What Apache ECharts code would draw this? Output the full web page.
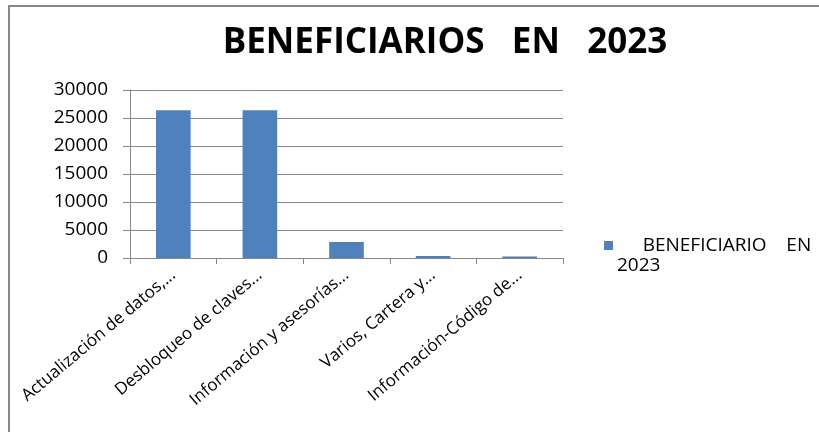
<!DOCTYPE html>
<html>
<head>
<meta charset="utf-8">
<script src="https://cdn.jsdelivr.net/npm/echarts@6/dist/echarts.min.js"></script>
<style>
  html, body { margin: 0; padding: 0; background: #fff; }
  #chart { width: 819px; height: 432px; }
</style>
</head>
<body>
<div id="chart"></div>
<script>
const categories = [
  'Actualización de datos,...',
  'Desbloqueo de claves...',
  'Información y asesorías...',
  'Varios, Cartera y...',
  'Información-Código de...'
]
const values = [26400, 26400, 2850, 350, 250]
const yTicks = [0, 5000, 10000, 15000, 20000, 25000, 30000]
const seriesName = 'BENEFICIARIO   EN   2023'

const myChart = echarts.init(document.getElementById('chart'))
myChart.setOption({
  animation: false,
  title: {
    text: 'BENEFICIARIOS   EN   2023',
    left: 440,
    textAlign: 'center',
    top: 21,
    textStyle: {
      fontFamily: 'Open Sans',
      fontWeight: 'bold',
      fontSize: 35,
      color: '#000',
    },
  },
  graphic: [{
    type: 'polyline',
    shape: { points: [[9, 440], [9, 6], [830, 6]] },
    style: { stroke: '#888', lineWidth: 2, fill: null },
  }, {
    // second line of the legend label, as Excel wrapped it
    type: 'text',
    left: 617,
    top: 256,
    style: {
      text: '2023',
      font: '19px "Open Sans"',
      fill: '#000',
    },
  }],
  legend: {
    left: 599,
    top: 228,
    itemWidth: 9,
    itemHeight: 9,
    icon: 'rect',
    itemGap: 8,
    formatter: function () {
      return '     BENEFICIARIO    EN'
    },
    textStyle: {
      fontFamily: 'Open Sans',
      fontSize: 19,
      color: '#000',
      lineHeight: 25,
    },
    data: [seriesName],
  },
  grid: {
    left: 130,
    right: 256,
    top: 90,
    bottom: 174,
  },
  xAxis: {
    type: 'category',
    data: categories,
    axisLine: { lineStyle: { color: '#868686' } },
    axisTick: { show: true, length: 6, lineStyle: { color: '#868686' } },
    axisLabel: {
      rotate: 40,
      interval: 0,
      margin: 15,
      fontFamily: 'Open Sans',
      fontSize: 17,
      color: '#000',
    },
  },
  yAxis: {
    type: 'value',
    min: yTicks[0],
    max: yTicks[yTicks.length - 1],
    interval: 5000,
    axisLine: { show: true, lineStyle: { color: '#868686' } },
    axisTick: { show: true, length: 7, lineStyle: { color: '#868686' } },
    splitLine: { lineStyle: { color: '#868686' } },
    axisLabel: {
      margin: 22,
      fontFamily: 'Open Sans',
      fontSize: 19,
      color: '#000',
      formatter: function (v) { return String(v) },
    },
  },
  series: [{
    name: seriesName,
    type: 'bar',
    data: values,
    barCategoryGap: '60%',
    itemStyle: { color: '#4f81bd' },
  }],
})
</script>
</body>
</html>
